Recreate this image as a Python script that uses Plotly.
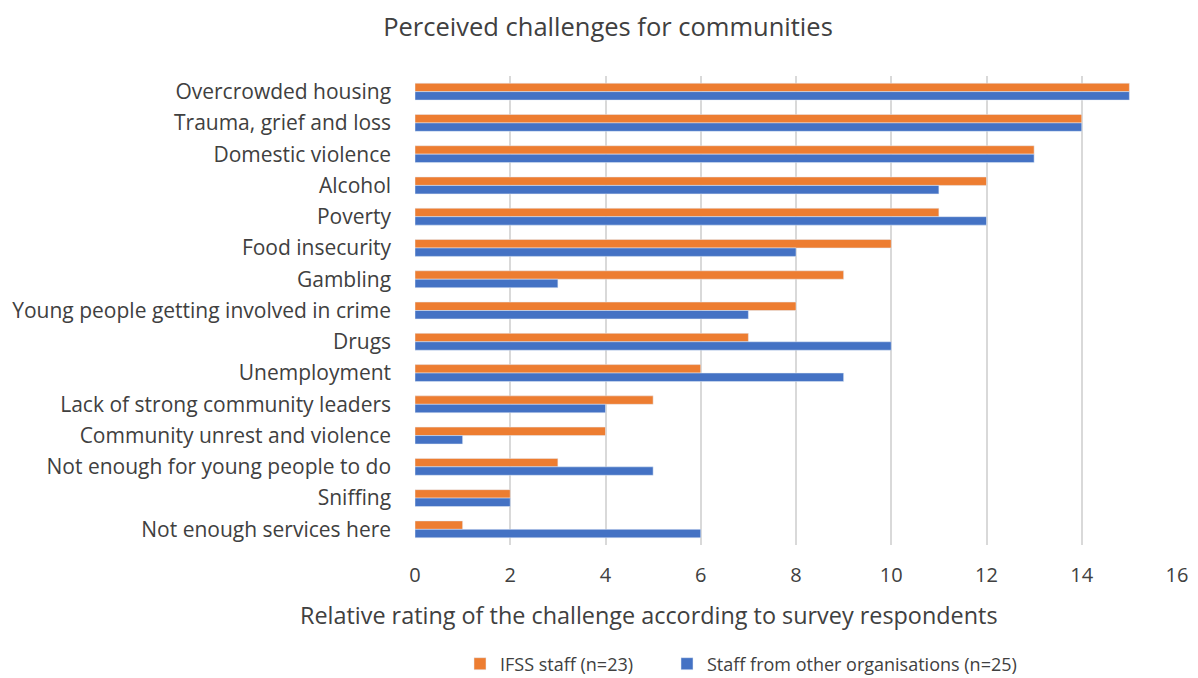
import plotly.graph_objects as go

categories = [
    "Overcrowded housing", "Trauma, grief and loss", "Domestic violence", "Alcohol",
    "Poverty", "Food insecurity", "Gambling", "Young people getting involved in crime",
    "Drugs", "Unemployment", "Lack of strong community leaders",
    "Community unrest and violence", "Not enough for young people to do", "Sniffing",
    "Not enough services here",
]
ifss_staff = [15, 14, 13, 12, 11, 10, 9, 8, 7, 6, 5, 4, 3, 2, 1]
other_staff = [15, 14, 13, 11, 12, 8, 3, 7, 10, 9, 4, 1, 5, 2, 6]
x_ticks = [0, 2, 4, 6, 8, 10, 12, 14, 16]

FONT = "Open Sans, Lato, sans-serif"
TXT = "#404040"
L, R, T, B, W, H = 415, 21, 76, 133, 1198, 678
PW, PH = W - L - R, H - T - B

def px_x(p):
    return (p - L) / PW

def px_y(p):
    return (H - B - p) / PH

fig = go.Figure()
fig.add_trace(go.Bar(y=categories, x=ifss_staff, orientation="h", showlegend=True,
                     name="IFSS staff (n=23)", marker_color="#ED7D31", legend="legend"))
fig.add_trace(go.Bar(y=categories, x=other_staff, orientation="h", showlegend=True,
                     name="Staff from other organisations (n=25)", marker_color="#4472C4",
                     legend="legend2"))

leg_common = dict(orientation="h", xanchor="left", yanchor="middle",
                  font=dict(size=18, color=TXT), bgcolor="rgba(0,0,0,0)", visible=True)

fig.update_layout(
    width=W, height=H, showlegend=True,
    barmode="group", bargap=0.46, bargroupgap=0,
    plot_bgcolor="white", paper_bgcolor="white",
    margin=dict(l=L, r=R, t=T, b=B, autoexpand=False),
    font=dict(family=FONT, color=TXT, size=20),
    title=dict(text="Perceived challenges for communities", x=608 / W, xanchor="center",
               y=1 - 27 / H, yanchor="middle", font=dict(size=25.5, color=TXT)),
    legend=dict(x=px_x(460), y=px_y(664), **leg_common),
    legend2=dict(x=px_x(667), y=px_y(664), **leg_common),
    xaxis=dict(range=[0, 16], tickvals=x_ticks, showgrid=True, gridcolor="#D9D9D9",
               gridwidth=2, zeroline=False, ticks="", tickfont=dict(size=20),
               ticklabelstandoff=16),
    yaxis=dict(autorange="reversed", showgrid=False, ticks="", ticksuffix="  ",
               tickfont=dict(size=21), ticklabelstandoff=12),
    annotations=[dict(text="Relative rating of the challenge according to survey respondents",
                      x=px_x(649), y=px_y(615), xref="paper", yref="paper",
                      xanchor="center", yanchor="middle", showarrow=False,
                      font=dict(size=23.4, color=TXT))],
)

fig.write_html("out.html", config={"displayModeBar": False},
               post_script="document.body.style.margin='0';")
